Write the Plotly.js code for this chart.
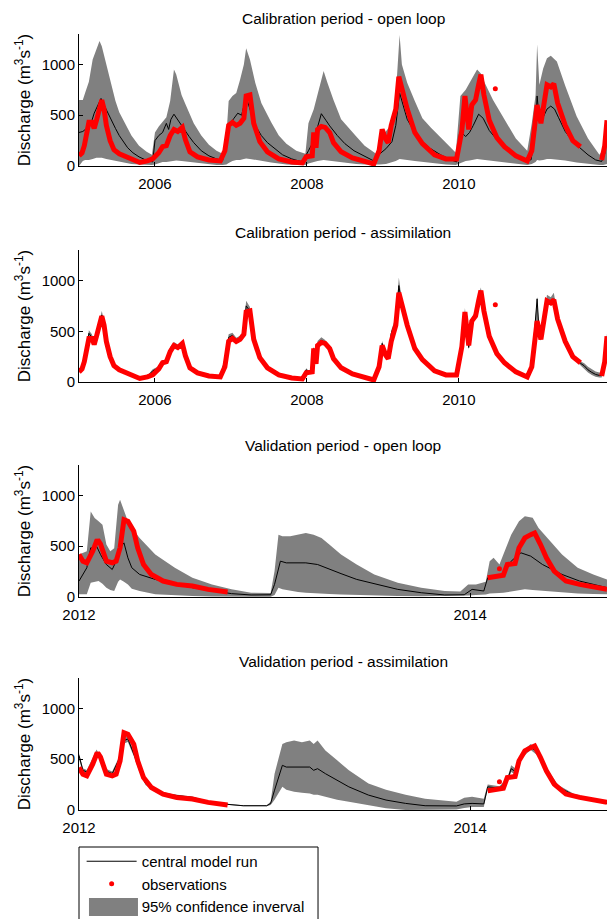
<!DOCTYPE html>
<html>
<head>
<meta charset="utf-8">
<script src="https://cdn.plot.ly/plotly-3.0.1.min.js"></script>
<style>html,body{margin:0;padding:0;background:#fff}#chart{width:607px;height:919px}</style>
</head>
<body>
<div id="chart"></div>
<script>
// ---------- Calibration period: observations ----------
const calObsT = [2005.00,2005.04,2005.07,2005.10,2005.13,2005.17,2005.20,2005.23,2005.27,2005.30,2005.33,2005.36,2005.41,2005.46,2005.53,2005.64,2005.74,2005.80,2005.90,2005.97,
2006.05,2006.10,2006.15,2006.20,2006.25,2006.30,2006.36,2006.40,2006.46,2006.56,2006.71,2006.86,2006.92,2006.97,
2007.02,2007.07,2007.12,2007.17,2007.20,2007.25,2007.30,2007.38,2007.48,2007.63,2007.80,2007.94,2007.99,
2008.04,2008.07,2008.09,2008.12,2008.14,2008.19,2008.24,2008.30,2008.35,2008.45,2008.60,2008.76,2008.88,2008.95,2008.99,
2009.04,2009.07,2009.11,2009.17,2009.21,2009.25,2009.32,2009.42,2009.52,2009.68,2009.83,2009.97,
2010.04,2010.08,2010.13,2010.17,2010.22,2010.26,2010.29,2010.33,2010.40,2010.50,2010.60,2010.75,2010.90,2010.96,
2011.03,2011.08,2011.13,2011.16,2011.21,2011.25,2011.30,2011.40,2011.50,2011.57,2011.60,2011.74,2011.88,2011.92,2011.95];
const calObsQ = [100,130,200,300,430,430,370,450,560,650,560,400,250,160,120,80,50,35,50,70,
130,190,200,300,360,340,380,260,140,90,60,50,150,400,
430,400,420,470,690,700,420,240,140,70,40,30,90,
90,100,330,180,360,390,380,330,230,140,80,40,20,150,360,
260,230,400,560,880,760,560,330,220,110,70,70,
350,690,360,600,650,800,900,700,450,280,190,100,50,150,
600,420,650,800,780,810,620,400,250,200,190,null,60,200,450];
const calOutT = [2010.48];
const calOutQ = [761];

// ---------- Calibration period: open loop ----------
const calOlBandT = [2005.00,2005.05,2005.08,2005.13,2005.18,2005.23,2005.27,2005.30,2005.36,2005.43,2005.48,2005.53,2005.59,2005.64,2005.69,2005.79,2005.89,2005.96,
2006.00,2006.05,2006.10,2006.15,2006.20,2006.25,2006.28,2006.35,2006.40,2006.51,2006.61,2006.71,2006.81,2006.89,2006.94,2006.97,
2007.02,2007.07,2007.12,2007.17,2007.20,2007.25,2007.32,2007.40,2007.53,2007.63,2007.73,2007.86,2007.98,
2008.02,2008.09,2008.14,2008.22,2008.27,2008.35,2008.45,2008.55,2008.65,2008.76,2008.91,2008.96,
2009.04,2009.12,2009.17,2009.22,2009.25,2009.32,2009.42,2009.52,2009.63,2009.73,2009.83,2009.96,
2010.02,2010.09,2010.14,2010.24,2010.29,2010.34,2010.45,2010.60,2010.75,2010.90,2010.96,
2011.01,2011.03,2011.06,2011.11,2011.16,2011.21,2011.29,2011.40,2011.55,2011.70,2011.85,2011.90,2011.95];
const calOlUpper = [650,650,720,830,1050,1150,1230,1180,1000,760,640,530,440,360,300,200,140,110,
330,390,430,480,640,950,900,700,610,420,300,210,150,120,300,640,
690,720,850,1000,1160,1050,820,620,430,300,220,150,120,
420,560,700,935,820,650,460,380,290,200,120,260,
340,420,700,1290,1000,820,640,470,380,300,230,130,
690,750,820,950,910,820,650,460,270,150,420,
700,1200,800,960,1060,1085,1030,790,490,270,110,160,380];
const calOlLower = [0,50,60,60,70,80,80,80,70,60,50,40,30,25,20,15,10,10,
15,30,40,40,45,55,55,50,45,35,25,15,10,10,15,30,
50,60,60,70,75,70,60,50,35,25,15,10,10,
25,40,50,60,55,50,40,30,20,15,10,15,
20,35,50,70,65,60,50,40,30,20,15,10,
30,50,55,70,65,60,50,35,20,10,20,
40,60,55,60,70,70,65,55,35,20,10,10,20];
const calOlT = [2005.00,2005.05,2005.10,2005.15,2005.20,2005.25,2005.29,2005.33,2005.38,2005.43,2005.48,2005.53,2005.59,2005.64,2005.71,2005.79,2005.89,2005.97,
2006.00,2006.05,2006.10,2006.15,2006.18,2006.21,2006.25,2006.30,2006.35,2006.45,2006.51,2006.61,2006.71,2006.81,2006.89,2006.94,2006.99,
2007.04,2007.09,2007.14,2007.20,2007.25,2007.32,2007.40,2007.48,2007.58,2007.68,2007.80,2007.94,
2008.02,2008.07,2008.12,2008.19,2008.25,2008.30,2008.40,2008.50,2008.62,2008.75,2008.88,2008.96,
2009.04,2009.12,2009.17,2009.22,2009.27,2009.32,2009.42,2009.52,2009.63,2009.76,2009.88,2009.97,
2010.01,2010.05,2010.09,2010.14,2010.19,2010.26,2010.32,2010.40,2010.50,2010.60,2010.72,2010.85,2010.95,
2011.01,2011.03,2011.06,2011.11,2011.16,2011.21,2011.26,2011.31,2011.40,2011.50,2011.60,2011.70,2011.80,2011.88,2011.92,2011.95];
const calOlQ = [330,340,370,400,520,600,665,600,520,440,370,300,230,180,130,90,55,40,
250,300,330,420,360,460,510,460,400,290,230,150,100,70,50,330,420,
470,520,500,680,560,400,300,230,170,110,70,40,
150,220,330,515,450,395,300,220,150,100,50,120,
170,240,400,720,580,460,330,240,170,110,65,40,
330,320,290,330,400,510,470,350,260,180,120,70,60,
350,690,450,480,560,590,560,480,340,240,170,110,60,45,120,300];

// ---------- Calibration period: assimilation ----------
const calAsT = [2005.00,2005.04,2005.07,2005.10,2005.13,2005.17,2005.20,2005.23,2005.27,2005.30,2005.33,2005.36,2005.41,2005.46,2005.53,2005.64,2005.74,2005.80,2005.90,2005.97,
2006.05,2006.10,2006.15,2006.20,2006.25,2006.30,2006.36,2006.40,2006.46,2006.56,2006.71,2006.86,2006.92,2006.97,
2007.02,2007.07,2007.12,2007.17,2007.20,2007.25,2007.30,2007.38,2007.48,2007.63,2007.80,2007.94,2007.99,
2008.04,2008.07,2008.09,2008.12,2008.14,2008.19,2008.24,2008.30,2008.35,2008.45,2008.60,2008.76,2008.88,2008.95,2008.99,
2009.04,2009.07,2009.11,2009.17,2009.21,2009.25,2009.32,2009.42,2009.52,2009.68,2009.83,2009.97,
2010.04,2010.08,2010.13,2010.17,2010.22,2010.26,2010.29,2010.33,2010.40,2010.50,2010.60,2010.75,2010.90,2010.96,
2011.03,2011.06,2011.08,2011.13,2011.16,2011.21,2011.25,2011.30,2011.40,2011.50,2011.57,2011.60,2011.65,2011.70,2011.75,2011.80,2011.85,2011.88,2011.92,2011.95];
const calAsQ = [110,140,210,320,480,440,380,460,580,660,570,410,250,160,120,80,50,40,55,110,
140,200,210,320,370,350,380,260,140,90,60,50,220,440,
460,410,430,480,750,700,420,240,140,70,40,30,120,
90,170,330,200,380,410,390,330,230,140,80,40,20,160,380,
270,240,480,600,950,760,560,330,220,110,70,80,
380,690,340,600,660,810,890,700,450,280,190,100,50,160,
820,450,430,650,810,790,820,620,400,250,200,185,160,120,95,75,65,65,200,450];
const calAsUpper = [125,155,230,345,510,470,400,490,620,700,600,430,265,170,128,86,55,45,62,125,
155,215,225,345,395,370,400,275,150,97,66,56,240,470,
485,435,455,510,800,740,445,255,150,76,45,35,135,
100,185,350,220,405,440,415,350,245,150,86,45,25,175,405,
290,258,510,640,1030,800,590,350,233,118,76,90,
405,730,365,635,700,855,930,735,475,296,201,107,56,175,
840,480,455,690,860,835,880,655,422,265,215,205,185,150,125,105,95,95,230,480];
const calAsLower = [95,125,195,300,440,420,360,440,560,630,545,390,238,150,112,74,45,35,48,70,
125,185,195,300,350,330,360,245,130,83,54,44,150,410,
435,390,405,455,700,665,400,228,130,64,35,25,95,
80,150,310,185,360,390,370,312,218,130,74,35,15,140,355,
252,224,450,570,880,725,535,312,208,102,64,70,
355,655,318,570,630,775,855,670,428,265,180,93,44,140,
600,425,410,620,775,755,785,590,380,236,186,168,138,95,70,52,45,45,175,420];

// ---------- Validation period: observations ----------
const valObsT = [2012.00,2012.02,2012.04,2012.06,2012.07,2012.09,2012.10,2012.11,2012.14,2012.17,2012.19,2012.21,2012.23,2012.25,2012.28,2012.30,2012.33,2012.37,2012.43,2012.50,2012.58,2012.66,2012.74,2012.76,
2013.50,
2014.09,2014.13,2014.16,2014.17,2014.19,2014.23,2014.25,2014.28,2014.31,2014.33,2014.36,2014.39,2014.43,2014.49,2014.56,2014.64,2014.70];
const valObsQ = [418,353,337,400,451,549,550,520,353,337,353,484,761,745,647,484,320,222,157,124,108,75,59,50,
null,
190,200,206,215,320,330,484,582,614,631,516,386,255,157,124,92,75];
const valOutT = [2014.15];
const valOutQ = [278];

// ---------- Validation period: open loop ----------
const valOlBandT = [2012.00,2012.04,2012.06,2012.08,2012.10,2012.12,2012.14,2012.16,2012.18,2012.20,2012.21,2012.23,2012.25,2012.27,2012.31,2012.39,2012.49,2012.58,2012.68,2012.78,2012.88,2012.98,
2013.00,2013.02,2013.04,2013.08,2013.12,2013.16,2013.20,2013.24,2013.28,2013.34,2013.42,2013.51,2013.63,2013.75,2013.87,2013.95,2013.99,
2014.03,2014.08,2014.10,2014.12,2014.15,2014.17,2014.21,2014.25,2014.28,2014.32,2014.35,2014.41,2014.47,2014.55,2014.63,2014.70];
const valOlUpper = [418,451,843,778,745,712,516,451,480,908,958,850,745,680,582,418,288,190,124,75,42,40,
255,614,598,598,614,631,614,582,516,418,320,222,141,92,59,55,124,
124,150,353,386,320,418,614,745,794,780,680,549,418,288,222,173];
const valOlLower = [26,26,141,150,157,130,92,70,60,150,173,150,124,80,59,26,15,10,5,3,2,2,
20,92,75,59,50,42,40,35,30,25,20,15,10,8,8,8,15,
20,25,35,40,40,42,55,70,75,70,65,55,45,35,30,26];
const valOlT = [2012.00,2012.02,2012.04,2012.06,2012.08,2012.09,2012.11,2012.14,2012.17,2012.19,2012.21,2012.23,2012.25,2012.27,2012.31,2012.39,2012.49,2012.58,2012.68,2012.78,2012.88,2012.98,
2013.00,2013.03,2013.06,2013.10,2013.16,2013.22,2013.28,2013.34,2013.42,2013.52,2013.63,2013.75,2013.87,2013.97,
2014.01,2014.07,2014.09,2014.13,2014.17,2014.21,2014.26,2014.31,2014.37,2014.47,2014.56,2014.70];
const valOlQ = [157,222,288,484,480,500,418,320,271,353,484,533,386,288,222,173,124,92,59,33,20,22,
124,353,336,336,336,320,271,230,173,124,75,42,20,22,
75,59,190,206,222,353,435,402,320,222,157,92];

// ---------- Validation period: assimilation ----------
const valAsT = [2012.00,2012.02,2012.04,2012.06,2012.09,2012.11,2012.13,2012.17,2012.21,2012.23,2012.25,2012.28,2012.31,2012.34,2012.40,2012.48,2012.58,2012.66,2012.74,2012.84,2012.96,2012.98,
2013.00,2013.04,2013.06,2013.10,2013.14,2013.18,2013.20,2013.22,2013.26,2013.32,2013.38,2013.48,2013.57,2013.67,2013.77,2013.93,2013.97,
2014.01,2014.07,2014.09,2014.15,2014.19,2014.21,2014.23,2014.27,2014.31,2014.35,2014.39,2014.45,2014.53,2014.63,2014.70];
const valAsQ = [537,391,375,440,570,500,391,358,521,684,700,554,391,261,179,147,124,81,59,42,42,65,
195,440,423,423,417,423,391,407,358,293,228,147,98,65,42,40,60,
65,60,228,215,290,407,380,554,619,560,391,228,147,98,65];
const valAsUpper = [560,410,395,470,595,520,410,380,545,715,730,580,410,275,190,156,132,88,64,46,46,80,
358,651,668,684,668,684,651,684,586,489,391,260,200,150,110,80,120,
130,110,250,235,315,440,410,585,650,590,415,245,160,108,72];
const valAsLower = [500,370,355,410,545,480,370,335,500,655,670,530,370,245,168,138,116,74,54,38,38,50,
100,228,200,179,170,163,150,150,130,100,81,49,16,0,0,5,20,
30,30,205,195,265,375,350,525,590,530,365,210,135,88,58];

// ---------- Axis ticks / labels ----------
const calTickVals = [2006, 2008, 2010];
const valTickVals = [2012, 2014];
const qTickVals = [0, 500, 1000];
const panelTitles = ['Calibration period - open loop','Calibration period - assimilation','Validation period - open loop','Validation period - assimilation'];
const yTitle = 'Discharge (m<sup>3</sup>s<sup>-1</sup>)';
const legendNames = ['central model run','observations','95% confidence inverval'];

const FONT = 'Liberation Sans, Arial, Helvetica, sans-serif';
const GREY = '#808080';

function panel(k, bandT, up, lo, runT, runQ, obsT, obsQ, outT, outQ, first) {
  const xa = k === 1 ? 'x' : 'x' + k, ya = k === 1 ? 'y' : 'y' + k;
  return [
    // lower bound of the band carries the legend entry (its swatch is the grey box drawn in layout.shapes)
    {x: bandT, y: lo, xaxis: xa, yaxis: ya, mode: 'lines', line: {width: 0, color: GREY}, hoverinfo: 'skip',
     name: legendNames[2], showlegend: first, legendrank: 3},
    {x: bandT, y: up, xaxis: xa, yaxis: ya, mode: 'lines', line: {width: 0, color: GREY}, fill: 'tonexty', fillcolor: GREY,
     showlegend: false},
    {x: runT, y: runQ, xaxis: xa, yaxis: ya, mode: 'lines', line: {width: 1, color: '#000'},
     name: legendNames[0], showlegend: first, legendrank: 1},
    {x: obsT, y: obsQ, xaxis: xa, yaxis: ya, mode: 'lines', line: {width: 5, color: '#ff0000'}, connectgaps: false, showlegend: false},
    {x: outT, y: outQ, xaxis: xa, yaxis: ya, mode: 'markers', marker: {size: 5, color: '#ff0000'},
     name: legendNames[1], showlegend: first, legendrank: 2}
  ];
}

const data = [].concat(
  panel(1, calOlBandT, calOlUpper, calOlLower, calOlT, calOlQ, calObsT, calObsQ, calOutT, calOutQ, true),
  panel(2, calAsT, calAsUpper, calAsLower, calAsT, calAsQ, calObsT, calObsQ, calOutT, calOutQ, false),
  panel(3, valOlBandT, valOlUpper, valOlLower, valOlT, valOlQ, valObsT, valObsQ, valOutT, valOutQ, false),
  panel(4, valAsT, valAsUpper, valAsLower, valAsT, valAsQ, valObsT, valObsQ, valOutT, valOutQ, false)
);

const tickFont = {family: FONT, size: 15, color: '#000'};
function xAx(range, vals, anchor) {
  return {range: range, tickvals: vals, tickformat: 'd', ticks: 'inside', ticklen: 4, tickcolor: '#000',
    showline: true, linecolor: '#000', linewidth: 1, showgrid: false, zeroline: false, anchor: anchor,
    tickfont: tickFont, ticklabelstandoff: 4, fixedrange: true};
}
function yAx(domain) {
  return {domain: domain, range: [0, 1300], tickvals: qTickVals, ticks: 'inside', ticklen: 4, tickcolor: '#000',
    showline: true, linecolor: '#000', linewidth: 1, showgrid: false, zeroline: false,
    tickfont: tickFont, title: {text: yTitle, font: {family: FONT, size: 17, color: '#000'}, standoff: 6}, fixedrange: true};
}

const titleY = [1.0206, 0.7448, 0.4691, 0.1920];
const annotations = panelTitles.map((t, i) => ({
  text: t, xref: 'paper', yref: 'paper', x: 0.5, y: titleY[i], xanchor: 'center', yanchor: 'middle',
  showarrow: false, font: {family: FONT, size: 15.5, color: '#000'}
}));

const layout = {
  width: 607, height: 919,
  margin: {l: 79, r: 0, t: 34, b: 109, autoexpand: false},
  paper_bgcolor: '#fff', plot_bgcolor: 'rgba(0,0,0,0)',
  font: {family: FONT, color: '#000'},
  xaxis: xAx([2005, 2011.95], calTickVals, 'y'),
  xaxis2: xAx([2005, 2011.95], calTickVals, 'y2'),
  xaxis3: xAx([2012, 2014.70], valTickVals, 'y3'),
  xaxis4: xAx([2012, 2014.70], valTickVals, 'y4'),
  yaxis: yAx([0.8299, 1]),
  yaxis2: yAx([0.5515, 0.7216]),
  yaxis3: yAx([0.2745, 0.4446]),
  yaxis4: yAx([0, 0.1701]),
  annotations: annotations,
  shapes: [
    {type: 'rect', xref: 'paper', yref: 'paper', x0: 0, x1: 0.4527, y0: -0.16, y1: -0.0477,
     line: {color: '#000', width: 1}, fillcolor: 'rgba(0,0,0,0)'},
    {type: 'rect', xref: 'paper', yref: 'paper', x0: 0.0189, x1: 0.1117, y0: -0.1366, y1: -0.1134,
     line: {width: 0}, fillcolor: GREY}
  ],
  showlegend: true,
  legend: {x: 0.005, y: -0.0451, xanchor: 'left', yanchor: 'top', bgcolor: 'rgba(0,0,0,0)', borderwidth: 0,
           font: {family: FONT, size: 15, color: '#000'}, itemwidth: 50, tracegroupgap: 0, traceorder: 'normal'},
  hovermode: false
};

Plotly.newPlot('chart', data, layout, {staticPlot: true, displayModeBar: false});
</script>
</body>
</html>
